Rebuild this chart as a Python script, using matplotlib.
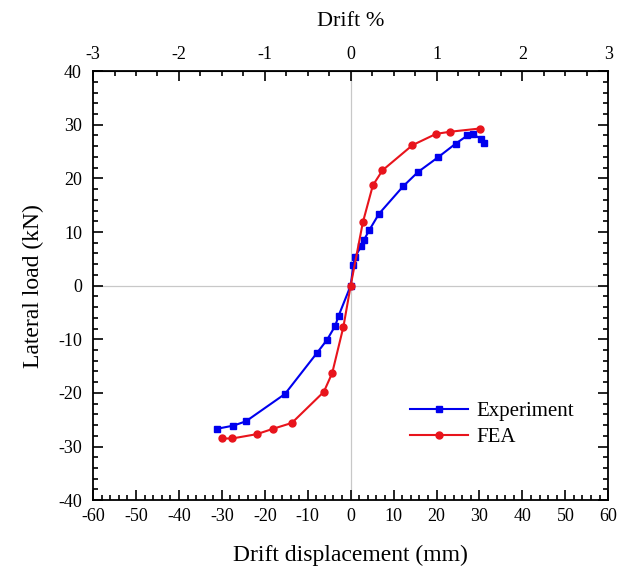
import matplotlib
matplotlib.use('Agg')
import matplotlib.pyplot as plt
from matplotlib.ticker import MultipleLocator, FixedLocator

plt.rcParams['font.family'] = ['Liberation Serif', 'DejaVu Serif']
plt.rcParams['axes.unicode_minus'] = False

# Experiment data (drift displacement mm, lateral load kN)
exp_disp = [-31.2, -27.3, -24.4, -15.3, -7.8, -5.5, -3.6, -2.8, 0.0,
            0.65, 0.98, 2.5, 3.15, 4.3, 6.6, 12.2, 15.7, 20.3, 24.5,
            27.2, 28.4, 30.4, 31.1]
exp_load = [-26.7, -26.1, -25.3, -20.2, -12.5, -10.1, -7.5, -5.6, 0.0,
            3.9, 5.3, 7.4, 8.6, 10.3, 13.4, 18.5, 21.2, 23.9, 26.5,
            28.0, 28.2, 27.4, 26.6]

# FEA data
fea_disp = [-29.9, -27.6, -21.9, -18.1, -13.7, -6.25, -4.3, -1.7, 0.0,
            2.84, 5.17, 7.41, 14.4, 19.9, 23.2, 30.1]
fea_load = [-28.5, -28.5, -27.7, -26.7, -25.6, -19.8, -16.3, -7.7, 0.0,
            11.8, 18.7, 21.5, 26.2, 28.3, 28.7, 29.3]

drift_ticks = [-3, -2, -1, 0, 1, 2, 3]

fig = plt.figure(figsize=(6.29, 5.69), dpi=100)
ax = fig.add_axes([0.148, 0.121, 0.819, 0.754])

ax.axhline(0, color='#c8c8c8', lw=0.9, zorder=0)
ax.axvline(0, color='#c8c8c8', lw=0.9, zorder=0)

ax.plot(exp_disp, exp_load, color='#0000ee', lw=1.5, marker='s', ms=4,
        label='Experiment')
ax.plot(fea_disp, fea_load, color='#e8141c', lw=1.5, marker='o', ms=5,
        label='FEA')

ax.set_xlim(-60, 60)
ax.set_ylim(-40, 40)
ax.xaxis.set_major_locator(MultipleLocator(10))
ax.xaxis.set_minor_locator(MultipleLocator(2))
ax.yaxis.set_major_locator(MultipleLocator(10))
ax.yaxis.set_minor_locator(MultipleLocator(2))
ax.tick_params(which='both', direction='in', right=True, labelsize=13,
               width=1.2)
ax.tick_params(which='major', length=7)
ax.tick_params(which='minor', length=3.5)
ax.tick_params(axis='x', pad=6)
ax.tick_params(axis='y', pad=8)
for sp in ax.spines.values():
    sp.set_linewidth(1.3)

ax.set_xlabel('Drift displacement (mm)', fontsize=17, labelpad=14)
ax.set_ylabel('Lateral load (kN)', fontsize=17, labelpad=10)

# top axis: drift % (2000 mm height)
top = ax.secondary_xaxis('top', functions=(lambda x: x / 20, lambda x: x * 20))
top.xaxis.set_major_locator(FixedLocator(drift_ticks))
top.xaxis.set_minor_locator(MultipleLocator(0.25))
top.tick_params(which='both', direction='in', labelsize=13, width=1.2, pad=6)
top.tick_params(which='major', length=7)
top.tick_params(which='minor', length=3.5)
top.set_xlabel('Drift %', fontsize=16, labelpad=14)

ax.legend(loc='lower right', bbox_to_anchor=(0.97, 0.08), frameon=False,
          fontsize=15, handlelength=2.8, handletextpad=0.4, labelspacing=0.3)

fig.savefig('out.png', dpi=100)
